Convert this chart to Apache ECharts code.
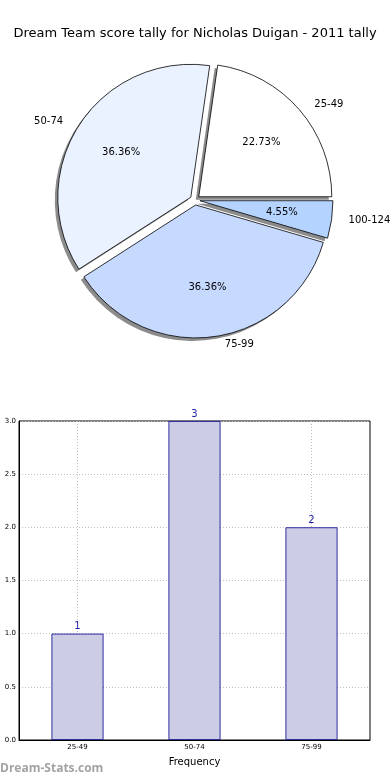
<!DOCTYPE html>
<html><head><meta charset="utf-8">
<script src="https://cdn.jsdelivr.net/npm/echarts@6/dist/echarts.min.js"></script>
<style>html,body{margin:0;padding:0;background:#fff}#c{width:390px;height:780px}</style>
</head><body><div id="c"></div>
<script>
const title = 'Dream Team score tally for Nicholas Duigan - 2011 tally';
const pieNames = ['25-49', '50-74', '75-99', '100-124'];
const pieValues = [5, 8, 8, 1];
const pieColors = ['#ffffff', '#eaf1ff', '#c6d9ff', '#b4d4ff'];
const barCategories = ['25-49', '50-74', '75-99'];
const barValues = [1, 3, 2];
const yTicks = ['0.0', '0.5', '1.0', '1.5', '2.0', '2.5', '3.0'];

const font = 'DejaVu Sans';
const R = 133;
const C = [195, 200];
const pieData = pieNames.map((n, i) => ({
  name: n, value: pieValues[i], selected: true,
  itemStyle: {color: pieColors[i]},
  select: {itemStyle: {color: pieColors[i]}}
}));
const labelData = pieNames.map((n, i) => ({name: n, value: pieValues[i], selected: true}));
const hidden = {color: 'rgba(0,0,0,0)', borderWidth: 0, borderColor: 'rgba(0,0,0,0)'};
const shade = {color: '#8c8c8c', borderWidth: 0};

const common = {type: 'pie', startAngle: 0, clockwise: false, selectedMode: 'multiple',
  selectedOffset: 5, emphasis: {disabled: true}, labelLine: {show: false}};

const chart = echarts.init(document.getElementById('c'), null, {renderer: 'canvas'});
chart.setOption({
  animation: false,
  backgroundColor: '#fff',
  textStyle: {fontFamily: font},
  title: {text: title, left: 'center', top: 22,
    textStyle: {fontSize: 13, fontWeight: 'normal', color: '#000', fontFamily: font}},
  graphic: [{type: 'text', left: 0, top: 763,
    style: {text: 'Dream-Stats.com', fontSize: 12, fontWeight: 'bold', fill: '#a3a3a3', fontFamily: 'Open Sans'}}],
  grid: {left: 19, right: 20, top: 421, bottom: 40, show: true, borderColor: '#000', borderWidth: 1},
  xAxis: {
    type: 'category', data: barCategories,
    name: 'Frequency', nameLocation: 'middle', nameGap: 17,
    nameTextStyle: {fontSize: 10, color: '#000', fontFamily: font},
    axisLine: {lineStyle: {color: '#000'}},
    axisTick: {show: false, alignWithLabel: true},
    axisLabel: {fontSize: 7, color: '#000', margin: 4},
    splitLine: {show: true, alignWithLabel: true, lineStyle: {color: '#c0c0c0', type: [1, 2]}}
  },
  yAxis: {
    type: 'value', min: 0, max: 3, interval: 0.5,
    axisLine: {show: true, lineStyle: {color: '#000'}},
    axisTick: {show: false},
    axisLabel: {fontSize: 7, color: '#000', margin: 3, formatter: v => v.toFixed(1)},
    splitLine: {show: true, lineStyle: {color: '#c0c0c0', type: [1, 2]}}
  },
  series: [
    Object.assign({}, common, {
      center: [C[0] - 3, C[1] + 3], radius: R, z: 4, silent: true,
      data: labelData, itemStyle: shade, select: {itemStyle: shade},
      label: {show: false}
    }),
    Object.assign({}, common, {
      center: C, radius: R, z: 5,
      data: pieData,
      itemStyle: {borderColor: '#000', borderWidth: 0.8},
      label: {show: false}
    }),
    Object.assign({}, common, {
      center: C, radius: R * 1.2, z: 6, silent: true,
      data: labelData, itemStyle: hidden, select: {itemStyle: hidden},
      label: {position: 'inside', formatter: '{d}%', fontSize: 10, color: '#000', fontFamily: font}
    }),
    Object.assign({}, common, {
      center: C, radius: R, z: 6, silent: true,
      data: labelData, itemStyle: hidden, select: {itemStyle: hidden},
      label: {position: 'outside', formatter: '{b}', fontSize: 10, color: '#000', fontFamily: font,
        overflow: 'none'},
      labelLine: {show: false, length: 8, length2: 4}
    }),
    {
      type: 'bar', data: barValues, barWidth: 52,
      itemStyle: {color: '#ccccE5', borderColor: '#00008b', borderWidth: 0.8},
      label: {show: true, position: 'top', fontSize: 10, color: '#1f1fa8', distance: 2, fontFamily: font},
      emphasis: {disabled: true}
    }
  ]
});
</script></body></html>
